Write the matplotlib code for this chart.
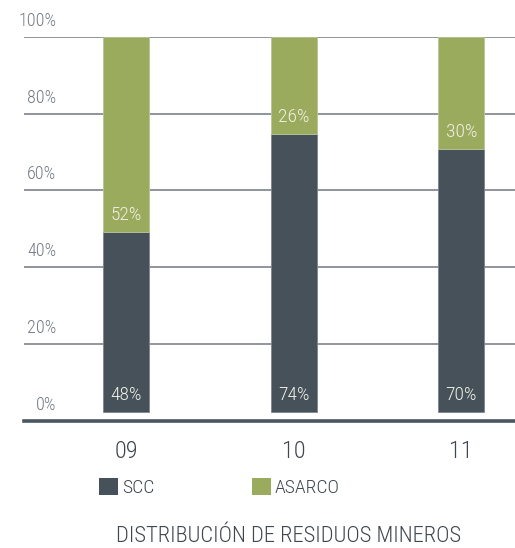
import matplotlib
matplotlib.use("Agg")
import matplotlib.pyplot as plt
from matplotlib.patches import Patch

plt.rcParams['font.family'] = ['Roboto Condensed', 'DejaVu Sans']
plt.rcParams['font.weight'] = 'light'

years = ["09", "10", "11"]
scc = [48, 74, 70]
asarco = [52, 26, 30]
y_ticks = [0, 20, 40, 60, 80, 100]
y_labels = ["0%", "20%", "40%", "60%", "80%", "100%"]
series_names = ["SCC", "ASARCO"]
title = "DISTRIBUCIÓN DE RESIDUOS MINEROS"

C_SCC = "#46515a"
C_ASA = "#9aab5e"
C_GRID = "#90959b"
C_AXIS = "#4b565e"
C_YLAB = "#737980"
C_TEXT = "#3f464c"
C_IN = "#eef1e4"

W, H = 515, 548
fig = plt.figure(figsize=(W / 100, H / 100), dpi=100)
ax = fig.add_axes([24 / W, 1 - 421 / H, 491 / W, (421 - 36.7) / H])

ax.set_ylim(0, 100)
ax.set_xlim(-0.608, 2.32)
for v in y_ticks[1:]:
    ax.axhline(v, color=C_GRID, lw=1.4, zorder=1)
for s in ["top", "right", "left"]:
    ax.spines[s].set_visible(False)
ax.spines["bottom"].set_color(C_AXIS)
ax.spines["bottom"].set_linewidth(2.6)
ax.set_yticks([])
x = list(range(len(years)))
ax.set_xticks(x)
ax.set_xticklabels(years, fontsize=17.5, color=C_TEXT)
ax.tick_params(axis="x", length=0, pad=13.5)

for v, lab in zip(y_ticks, y_labels):
    ax.annotate(lab, xy=(0.066, v), xycoords=ax.get_yaxis_transform(),
                xytext=(0, 11.5), textcoords="offset points",
                ha="right", va="center", fontsize=13, color=C_YLAB,
                annotation_clip=False)

# bars axis (bars begin slightly above the base line)
ax2 = ax.twinx()
ax2.set_ylim(-2.48, 100)
ax2.set_xlim(ax.get_xlim())
ax2.axis("off")
bw = 0.274
ax2.bar(x, scc, width=bw, color=C_SCC, edgecolor="#7d868d", linewidth=0.6, zorder=3)
ax2.bar(x, asarco, width=bw, bottom=scc, color=C_ASA, edgecolor="#b9c49a", linewidth=0.6, zorder=3)

for i in x:
    ax2.annotate(f"{scc[i]}%", xy=(i, 0), xytext=(0, 12.3), textcoords="offset points",
                 ha="center", va="center", fontsize=14, color=C_IN, zorder=5)
    ax2.annotate(f"{asarco[i]}%", xy=(i, scc[i]), xytext=(0, 12.3), textcoords="offset points",
                 ha="center", va="center", fontsize=14, color=C_IN, zorder=5)

handles = [Patch(facecolor=C_SCC), Patch(facecolor=C_ASA)]
fig.legend(handles, series_names, loc="upper left",
           bbox_to_anchor=(99 / W, 1 - 477.7 / H), frameon=False,
           ncol=2, fontsize=14, handlelength=0.98, handleheight=0.98,
           handletextpad=0.2, columnspacing=5.0, borderpad=0, borderaxespad=0,
           labelcolor=C_TEXT)

fig.text(289 / W, 1 - 536 / H, title, ha="center", va="center",
         fontsize=16.2, color=C_TEXT)

fig.savefig("out.png", dpi=100)
